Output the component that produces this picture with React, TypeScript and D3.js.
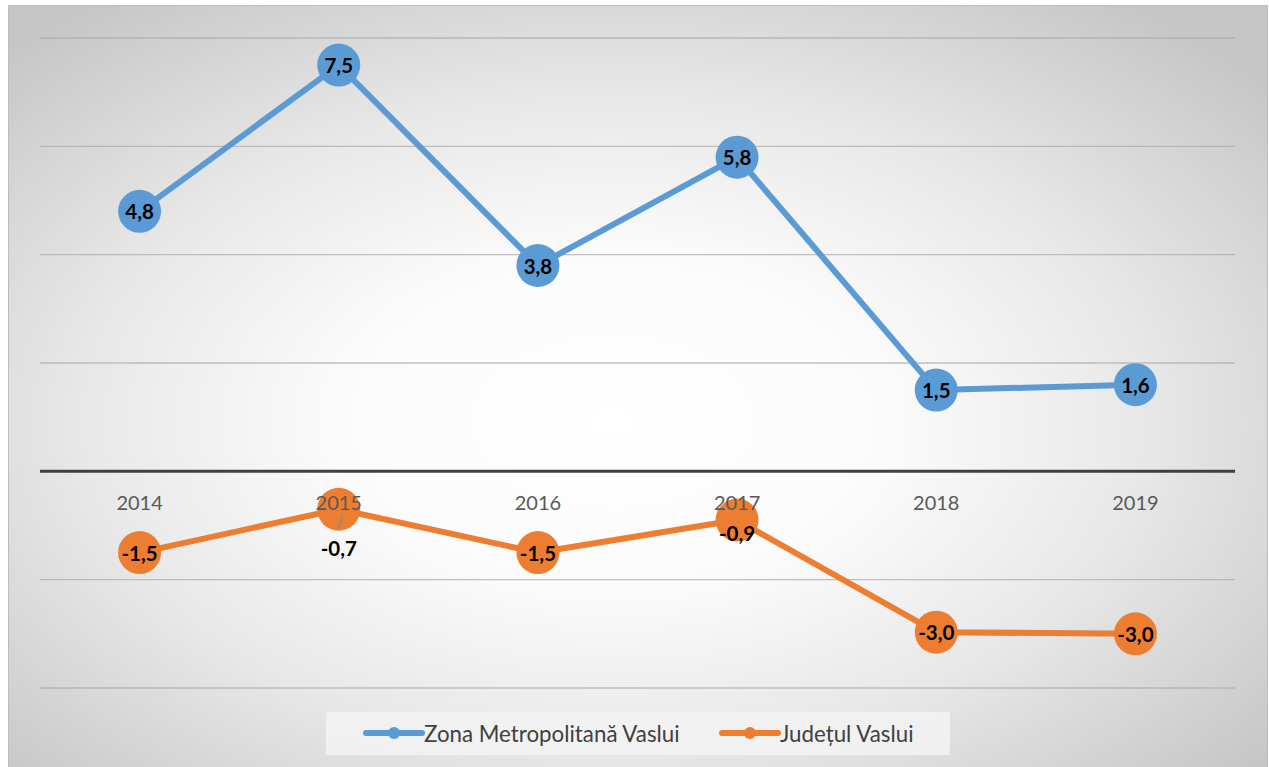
import React from "react";
import * as d3 from "d3";

const years = ["2014", "2015", "2016", "2017", "2018", "2019"];
const metroValues = [4.8, 7.5, 3.8, 5.8, 1.5, 1.6];
const countyValues = [-1.5, -0.7, -1.5, -0.9, -2.97, -3.0];
const countyLabels = ["-1,5", "-0,7", "-1,5", "-0,9", "-3,0", "-3,0"];
const metroLabels = ["4,8", "7,5", "3,8", "5,8", "1,5", "1,6"];
const countyLabelPlacement = ["center", "below", "center", "nudge", "center", "center"];
const yTicks = [-4, -2, 0, 2, 4, 6, 8];
const seriesNames = ["Zona Metropolitană Vaslui", "Județul Vaslui"];

const W = 1269;
const H = 767;
const FONT = "Lato, 'Open Sans', sans-serif";
const BLUE = "#5b9bd5";
const ORANGE = "#ed7d31";

export default function App() {
  const x = d3.scaleBand<string>().domain(years).range([40, 1235]);
  const y = d3.scaleLinear().domain([-4, 8]).range([688, 38]);
  const cx = (d: string) => (x(d) as number) + x.bandwidth() / 2;
  const line = d3
    .line<number>()
    .x((_, i) => cx(years[i]))
    .y((v) => y(v));

  const placementDy = (p: string) => (p === "below" ? 39 : p === "nudge" ? 13 : 0);

  return (
    <svg
      width={W}
      height={H}
      style={{ position: "absolute", left: 0, top: 0 }}
      fontFamily={FONT}
    >
      <defs>
        <radialGradient id="bg" cx="48%" cy="54%" r="68%">
          <stop offset="0%" stopColor="#ffffff" />
          <stop offset="32%" stopColor="#fbfbfb" />
          <stop offset="62%" stopColor="#e8e8e8" />
          <stop offset="100%" stopColor="#c6c6c6" />
        </radialGradient>
      </defs>
      <rect x={8.5} y={5.5} width={1259} height={770} fill="url(#bg)" stroke="#bdbdbd" strokeWidth={1} />

      {yTicks
        .filter((t) => t !== 0)
        .map((t) => (
          <line key={t} x1={40} x2={1235} y1={y(t)} y2={y(t)} stroke="#a8a8a8" strokeOpacity={0.7} strokeWidth={1.3} />
        ))}
      <line x1={40} x2={1235} y1={y(0)} y2={y(0)} stroke="#404040" strokeWidth={3} />

      <path d={line(metroValues) || ""} fill="none" stroke={BLUE} strokeWidth={6} strokeLinejoin="round" />
      {metroValues.map((v, i) => (
        <circle key={"m" + i} cx={cx(years[i])} cy={y(v)} r={21.5} fill={BLUE} />
      ))}
      <path d={line(countyValues) || ""} fill="none" stroke={ORANGE} strokeWidth={6} strokeLinejoin="round" />
      {countyValues.map((v, i) => (
        <circle key={"c" + i} cx={cx(years[i])} cy={y(v)} r={21.5} fill={ORANGE} />
      ))}

      {years.map((yr) => (
        <text key={yr} x={cx(yr)} y={502} textAnchor="middle" dominantBaseline="central" fontSize={20} fill="#595959">
          {yr}
        </text>
      ))}

      <line x1={cx(years[1]) + 4} x2={cx(years[1]) - 1} y1={515} y2={529} stroke="#8c8c8c" strokeWidth={1.5} />

      {metroValues.map((v, i) => (
        <text key={"ml" + i} x={cx(years[i])} y={y(v)} textAnchor="middle" dominantBaseline="central" fontSize={20.5} fontWeight="bold" fill="#000">
          {metroLabels[i]}
        </text>
      ))}
      {countyValues.map((v, i) => (
        <text
          key={"cl" + i}
          x={cx(years[i])}
          y={y(v) + placementDy(countyLabelPlacement[i])}
          textAnchor="middle"
          dominantBaseline="central"
          fontSize={20.5}
          fontWeight="bold"
          fill="#000"
        >
          {countyLabels[i]}
        </text>
      ))}

      <rect x={326} y={712} width={624} height={43} fill="#f4f4f4" fillOpacity={0.8} />
      {seriesNames.map((name, i) => {
        const lx = i === 0 ? 366 : 722;
        const color = i === 0 ? BLUE : ORANGE;
        return (
          <g key={name}>
            <line x1={lx} x2={lx + 56} y1={733} y2={733} stroke={color} strokeWidth={6} strokeLinecap="round" />
            <circle cx={lx + 28} cy={733} r={6} fill={color} />
            <text x={lx + 58} y={733} dominantBaseline="central" fontSize={22.3} fill="#404040">
              {name}
            </text>
          </g>
        );
      })}
    </svg>
  );
}
